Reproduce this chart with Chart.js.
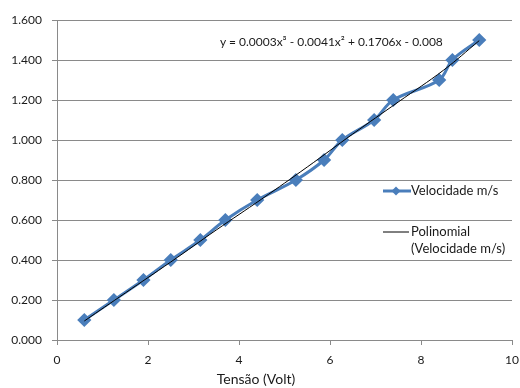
<!DOCTYPE html>
<html>
<head>
<meta charset="utf-8">
<script src="https://cdn.jsdelivr.net/npm/chart.js@4"></script>
<style>
  html, body { margin: 0; padding: 0; background: #fff; }
  #wrap { position: relative; width: 520px; height: 388px; font-family: Lato, "Open Sans", sans-serif; color: #1a1a1a; }
  canvas { position: absolute; left: 0; top: 0; }
  .ov { position: absolute; font-size: 12px; line-height: 17px; white-space: nowrap; }
  .lg { font-size: 13px; }
</style>
</head>
<body>
<div id="wrap">
  <canvas id="c" width="520" height="388"></canvas>
  <div class="ov" id="eq" style="left:220px; top:33px;"></div>
  <div class="ov lg" style="left:383px; top:182px;">
    <svg width="28" height="17" style="vertical-align:top"><line x1="0" y1="9" x2="28" y2="9" stroke="#4A7EBB" stroke-width="3"/><polygon points="13,4.5 17.5,9 13,13.5 8.5,9" fill="#4A7EBB"/></svg><span id="lg1" style="vertical-align:top"></span>
  </div>
  <div class="ov lg" style="left:383px; top:223px;">
    <svg width="28" height="17" style="vertical-align:top"><line x1="0" y1="9" x2="26" y2="9" stroke="#000" stroke-width="1"/></svg><span id="lg2a" style="vertical-align:top"></span><br>
    <span style="display:inline-block;width:28px"></span><span id="lg2b"></span>
  </div>
</div>
<script>
// ---- data ----
const tensao = [0.6, 1.25, 1.9, 2.5, 3.15, 3.7, 4.4, 5.25, 5.87, 6.27, 6.97, 7.39, 8.4, 8.69, 9.28];
const velocidade = [0.1, 0.2, 0.3, 0.4, 0.5, 0.6, 0.7, 0.8, 0.9, 1.0, 1.1, 1.2, 1.3, 1.4, 1.5];
// trend line
const trendX = [0.6, 1.5, 2.5, 3.5, 4.5, 5.5, 6.5, 7.5, 8.5, 9.28];
const trendY = [0.095, 0.235, 0.39, 0.55, 0.705, 0.865, 1.03, 1.19, 1.35, 1.497];
const yTicks = [0, 0.2, 0.4, 0.6, 0.8, 1.0, 1.2, 1.4, 1.6];
const xTicks = [0, 2, 4, 6, 8, 10];
const seriesName = "Velocidade m/s";
const trendName1 = "Polinomial";
const trendName2 = "(Velocidade m/s)";
const equation = "y = 0.0003x³ - 0.0041x² + 0.1706x - 0.008";
const xTitle = "Tensão (Volt)";

document.getElementById('eq').textContent = equation;
document.getElementById('lg1').textContent = seriesName;
document.getElementById('lg2a').textContent = trendName1;
document.getElementById('lg2b').textContent = trendName2;

const gridCol = '#8a8a8a';
const fontSpec = { family: 'Lato, "Open Sans", sans-serif', size: 12 };

new Chart(document.getElementById('c'), {
  type: 'scatter',
  data: {
    datasets: [
      {
        label: seriesName,
        data: tensao.map((x, i) => ({ x: x, y: velocidade[i] })),
        showLine: true,
        borderColor: '#4A7EBB',
        backgroundColor: '#4A7EBB',
        borderWidth: 3,
        tension: 0.35,
        pointStyle: 'rectRot',
        pointRadius: 5,
        pointHoverRadius: 5,
        order: 2
      },
      {
        label: trendName1 + ' ' + trendName2,
        data: trendX.map((x, i) => ({ x: x, y: trendY[i] })),
        showLine: true,
        borderColor: '#000000',
        borderWidth: 1,
        tension: 0.4,
        pointRadius: 0,
        order: 1
      }
    ]
  },
  options: {
    responsive: false,
    animation: false,
    layout: { padding: { top: 20, right: 8, left: 0, bottom: 0 } },
    plugins: {
      legend: { display: false },
      tooltip: { enabled: false },
      title: {
        display: true,
        position: 'bottom',
        text: xTitle,
        color: '#1a1a1a',
        font: { family: fontSpec.family, size: 14, weight: 'normal', lineHeight: 1.2 },
        padding: { top: 0, bottom: 0 }
      }
    },
    scales: {
      x: {
        type: 'linear',
        min: 0, max: 10,
        afterBuildTicks: (s) => { s.ticks = xTicks.map(v => ({ value: v })); },
        afterFit: (s) => { s.height = 31.2; s.paddingRight = 0; s.paddingLeft = 0; },
        ticks: { color: '#1a1a1a', font: fontSpec, padding: 8 },
        grid: { display: true, drawOnChartArea: false, drawTicks: true, tickLength: 5, color: gridCol },
        border: { display: true, color: gridCol, width: 1 }
      },
      y: {
        type: 'linear',
        min: 0, max: 1.6,
        afterBuildTicks: (s) => { s.ticks = yTicks.map(v => ({ value: v })); },
        afterFit: (s) => { s.width = 57; s.paddingTop = 0; s.paddingBottom = 0; },
        ticks: { color: '#1a1a1a', font: fontSpec, padding: 10, callback: (v) => Number(v).toFixed(3) },
        grid: { color: gridCol, tickLength: 5, drawTicks: true },
        border: { display: true, color: gridCol, width: 1 }
      }
    }
  }
});
</script>
</body>
</html>
